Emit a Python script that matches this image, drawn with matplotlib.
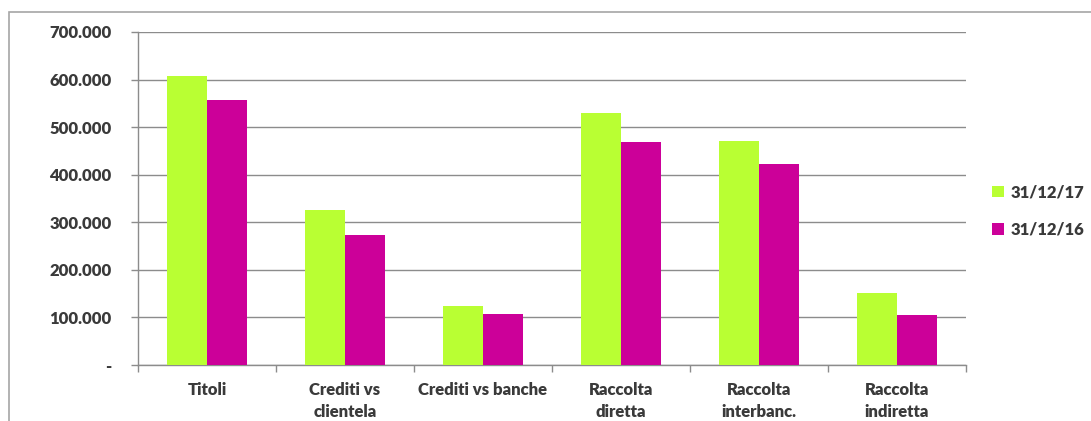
import matplotlib
matplotlib.use("Agg")
import matplotlib.pyplot as plt
from matplotlib.ticker import FuncFormatter, FixedLocator
from matplotlib.patches import Rectangle
import numpy as np

categories = ["Titoli", "Crediti vs\nclientela", "Crediti vs banche", "Raccolta\ndiretta",
              "Raccolta\ninterbanc.", "Raccolta\nindiretta"]
series_names = ["31/12/17", "31/12/16"]
values_2017 = [608000, 326000, 124000, 529000, 471000, 152000]
values_2016 = [557000, 273000, 107000, 469000, 423000, 105000]
colors = ["#b9ff33", "#cc0099"]

plt.rcParams['font.family'] = ['Lato', 'DejaVu Sans']
text_color = "#3a3a3a"
weight = "heavy"

fig = plt.figure(figsize=(10.91, 4.21), dpi=100)
W, H = 1091, 421
ax = fig.add_axes([138 / W, 1 - 365 / H, (966 - 138) / W, (365 - 32) / H])

# outer frame
fig.patches.append(Rectangle((9 / W, -0.1), 1.2, (1 - 12 / H) + 0.1, transform=fig.transFigure,
                             fill=False, edgecolor="#a6a6a6", linewidth=1.2))

x = np.arange(len(categories))
bw = 0.29
ax.bar(x - bw / 2, values_2017, bw, color=colors[0], label=series_names[0], zorder=3)
ax.bar(x + bw / 2, values_2016, bw, color=colors[1], label=series_names[1], zorder=3)

ax.set_xlim(-0.5, len(categories) - 0.5)
ax.set_ylim(0, 700000)
ax.set_yticks(np.arange(0, 700001, 100000))

def fmt(v, pos):
    if v == 0:
        return "-"
    return f"{int(v):,}".replace(",", ".")

ax.yaxis.set_major_formatter(FuncFormatter(fmt))
ax.yaxis.grid(True, color="#8c8c8c", linewidth=1.0, zorder=0)
ax.set_axisbelow(True)

ax.set_xticks(x)
ax.set_xticklabels(categories, fontsize=12, fontweight=weight, color=text_color, linespacing=1.5)
ax.xaxis.set_minor_locator(FixedLocator(np.arange(-0.5, len(categories), 1.0)))
ax.tick_params(axis="x", which="major", length=0, pad=12)
ax.tick_params(axis="x", which="minor", length=5, color="#8c8c8c", width=1)
ax.tick_params(axis="y", length=5, color="#8c8c8c", width=1, pad=14, labelsize=12,
               labelcolor=text_color)
for lab in ax.get_yticklabels():
    lab.set_fontweight(weight)

for s in ["top", "right"]:
    ax.spines[s].set_visible(False)
for s in ["left", "bottom"]:
    ax.spines[s].set_color("#8c8c8c")
    ax.spines[s].set_linewidth(1.0)

leg = fig.legend(loc="center left", bbox_to_anchor=(977 / W, 1 - 211 / H), frameon=False,
                 prop={"size": 12, "weight": weight}, handlelength=0.7, handleheight=0.7,
                 handletextpad=0.4, labelspacing=1.3, labelcolor=text_color)

fig.savefig("out.png", dpi=100)
